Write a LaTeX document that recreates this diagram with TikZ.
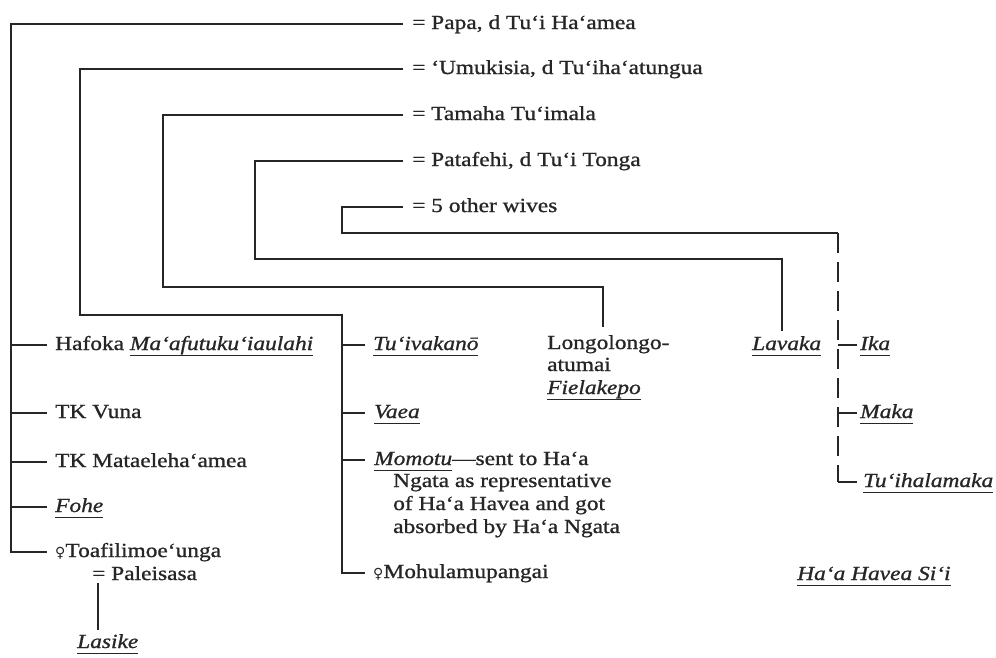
\documentclass[tikz,border=0pt]{standalone}
\usepackage{fontspec}
\setmainfont[FakeStretch=1.17, FakeBold=1]{Liberation Serif}
\newfontfamily\symfont{DejaVu Sans}
\definecolor{ink}{HTML}{262626}
% underlined italic personal name
\newsavebox{\nmbox}
\newcommand{\nm}[1]{\sbox{\nmbox}{\textit{#1}}\rlap{\rule[-6pt]{\wd\nmbox}{1.5pt}}\usebox{\nmbox}}
\newcommand{\fem}{{\symfont\fontsize{14pt}{14pt}\selectfont ♀}}
\begin{document}
\begin{tikzpicture}[x=1pt,y=-1pt,
  txt/.style={anchor=base west, inner sep=0pt, text=ink, font=\fontsize{20pt}{24pt}\selectfont},
  link/.style={draw=ink, line width=1.9pt},
  dashline/.style={draw=ink, line width=2.6pt, dash pattern=on 20pt off 9pt}]
\useasboundingbox (0,0) rectangle (996,657);

% wives
\node[txt] (papa)   at (412,29)  {= Papa, d Tu‘i Ha‘amea};
\node[txt] (umuk)   at (412,74)  {= ‘Umukisia, d Tu‘iha‘atungua};
\node[txt] (tamaha) at (412,120) {= Tamaha Tu‘imala};
\node[txt] (pata)   at (412,166) {= Patafehi, d Tu‘i Tonga};
\node[txt] (wives)  at (412,212) {= 5 other wives};

% children of Papa
\node[txt] (hafoka) at (55,350) {Hafoka \nm{Ma‘afutuku‘iaulahi}};
\node[txt] (vuna)   at (55,418) {TK Vuna};
\node[txt] (mata)   at (55,467) {TK Mataeleha‘amea};
\node[txt] (fohe)   at (55,512) {\nm{Fohe}};
\node[txt] (toafi)  at (55,557) {\fem Toafilimoe‘unga};
\node[txt] (pal)    at (92,580) {= Paleisasa};
\node[txt] (lasike) at (77,648) {\nm{Lasike}};

% children of 'Umukisia
\node[txt] (tuiv)    at (373,350) {\nm{Tu‘ivakanō}};
\node[txt] (vaea)    at (374,418) {\nm{Vaea}};
\node[txt] (momotu)  at (374,465) {\nm{Momotu}—sent to Ha‘a};
\node[txt] (momotuB) at (393,487) {Ngata as representative};
\node[txt] (momotuC) at (393,510) {of Ha‘a Havea and got};
\node[txt] (momotuD) at (393,533) {absorbed by Ha‘a Ngata};
\node[txt] (mohul)   at (373,578) {\fem Mohulamupangai};

% children of Tamaha and Patafehi
\node[txt] (longo)  at (547,349) {Longolongo-};
\node[txt] (longoB) at (547,371) {atumai};
\node[txt] (longoC) at (547,394) {\nm{Fielakepo}};
\node[txt] (lavaka) at (752,350) {\nm{Lavaka}};

% children of the other wives
\node[txt] (ika)  at (860,350) {\nm{Ika}};
\node[txt] (maka) at (860,418) {\nm{Maka}};
\node[txt] (tuih) at (863,487) {\nm{Tu‘ihalamaka}};
\node[txt] (hhs)  at (797,580) {\nm{Ha‘a Havea Si‘i}};

% line ends beside the labels
\foreach \n in {papa,umuk,tamaha,pata,wives}
  \coordinate (\n-p) at ([shift={(-9pt,5pt)}]\n.base west);
\foreach \n in {hafoka,vuna,mata,fohe,toafi,tuiv,mohul}
  \coordinate (\n-p) at ([shift={(-8pt,5pt)}]\n.base west);
\foreach \n in {vaea,momotu}
  \coordinate (\n-p) at ([shift={(-9pt,5pt)}]\n.base west);
\foreach \n in {ika,maka}
  \coordinate (\n-p) at ([shift={(-3pt,5pt)}]\n.base west);
\coordinate (tuih-p) at ([shift={(-6pt,5pt)}]tuih.base west);
\coordinate (longo-t) at ([xshift=56pt]longo.north west);
\coordinate (lavaka-t) at ([xshift=30pt]lavaka.north west);
\coordinate (pal-eq) at ([shift={(6pt,-3pt)}]pal.base west);

% trunk corners
\coordinate (trA) at (11,24);
\coordinate (trB) at (80,315);
\coordinate (jB)  at (342,315);
\coordinate (trC) at (163,287);
\coordinate (trD) at (255,259);
\coordinate (trE) at (342,233);
\coordinate (jE)  at (838,233);

% Papa's line
\draw[link] (papa-p) -| (trA |- toafi-p) -- (toafi-p);
\foreach \c in {hafoka,vuna,mata,fohe}
  \draw[link] (trA |- \c-p) -- (\c-p);
\draw[link, shorten >=4pt] (pal-eq) -- (pal-eq |- lasike.north);

% 'Umukisia's line
\draw[link] (umuk-p) -| (trB) -- (jB) -- (jB |- mohul-p) -- (mohul-p);
\foreach \c in {tuiv,vaea,momotu}
  \draw[link] (jB |- \c-p) -- (\c-p);

% Tamaha's and Patafehi's lines
\draw[link, shorten >=8pt] (tamaha-p) -| (trC) -| (longo-t);
\draw[link, shorten >=5pt] (pata-p) -| (trD) -| (lavaka-t);

% the other wives
\draw[link] (wives-p) -| (trE) -- (jE);
\draw[dashline] (jE) -- (jE |- tuih-p);
\draw[link] (jE |- ika-p) -- (ika-p);
\draw[link] (jE |- maka-p) -- (maka-p);
\draw[link] (jE |- tuih-p) -- (tuih-p);
\end{tikzpicture}
\end{document}
